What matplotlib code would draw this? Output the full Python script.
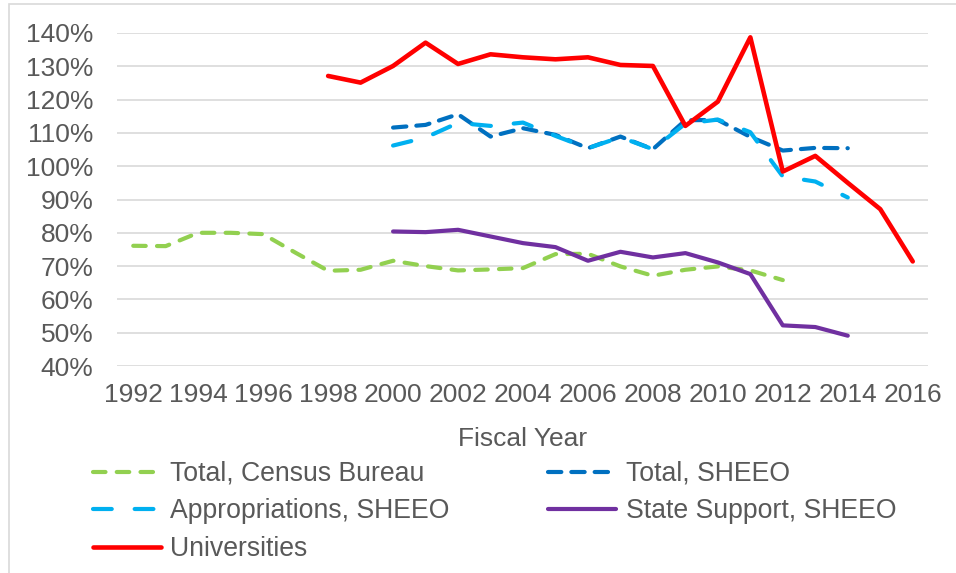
import matplotlib
matplotlib.use('Agg')
import matplotlib.pyplot as plt
import matplotlib.patches as patches
from matplotlib.ticker import FuncFormatter

# data (percent)
census_years = list(range(1992, 2013))
census = [76.1, 76.0, 80.0, 80.0, 79.6, 74.0, 68.6, 68.9, 71.6, 70.0, 68.7,
          69.0, 69.4, 73.6, 73.7, 69.9, 67.1, 68.9, 69.9, 68.7, 65.8]

sheeo_years = list(range(2000, 2015))
total_sheeo = [111.6, 112.4, 115.6, 108.9, 111.4, 109.4, 105.4, 108.9, 105.1,
               113.8, 113.9, 108.8, 104.7, 105.5, 105.4]
approp_sheeo = [106.2, 108.6, 113.0, 112.1, 113.1, 109.1, 105.4, 108.7, 105.1,
                112.8, 114.0, 110.2, 96.9, 95.4, 90.6]
state_support = [80.4, 80.2, 80.9, 78.9, 76.9, 75.7, 71.6, 74.3, 72.6, 73.9,
                 71.1, 67.6, 52.2, 51.7, 49.1]

univ_years = list(range(1998, 2017))
universities = [127.1, 125.1, 130.1, 137.1, 130.7, 133.6, 132.7, 132.1, 132.7,
                130.4, 130.1, 112.1, 119.4, 138.7, 98.4, 103.1, 95.0, 87.1, 71.4]

year_ticks = list(range(1992, 2017, 2))
pct_ticks = list(range(40, 141, 10))

plt.rcParams['font.family'] = ['Liberation Sans', 'DejaVu Sans']
grey_text = '#595959'

fig = plt.figure(figsize=(9.56, 5.73), dpi=100)
ax = fig.add_axes([117 / 956, 1 - 366 / 573, (928 - 117) / 956, (366 - 33) / 573])

lw = 3.0
l_census, = ax.plot(census_years, census, color='#92D050', lw=lw,
                    dashes=(3.0, 2.7), dash_capstyle='round',
                    label='Total, Census Bureau')
l_total, = ax.plot(sheeo_years, total_sheeo, color='#0070C0', lw=lw,
                   dashes=(3.2, 2.4), dash_capstyle='round',
                   label='Total, SHEEO')
l_approp, = ax.plot(sheeo_years, approp_sheeo, color='#00B0F0', lw=lw,
                    dashes=(4.5, 5.5), dash_capstyle='round',
                    label='Appropriations, SHEEO')
l_state, = ax.plot(sheeo_years, state_support, color='#7030A0', lw=lw,
                   solid_capstyle='round', solid_joinstyle='round',
                   label='State Support, SHEEO')
l_univ, = ax.plot(univ_years, universities, color='#FF0000', lw=3.3,
                  solid_capstyle='round', solid_joinstyle='round',
                  label='Universities')

ax.set_xlim(1991.5, 2016.47)
ax.set_ylim(40, 140)
ax.set_xticks(year_ticks)
ax.set_yticks(pct_ticks)
ax.yaxis.set_major_formatter(FuncFormatter(lambda v, p: f'{v:.0f}%'))
ax.tick_params(axis='both', length=0, labelsize=19, colors=grey_text)
ax.tick_params(axis='y', pad=17)
ax.tick_params(axis='x', pad=12)
ax.grid(axis='y', color='#D9D9D9', lw=1.2)
ax.set_axisbelow(True)
for s in ax.spines.values():
    s.set_visible(False)

ax.set_xlabel('Fiscal Year', fontsize=19, color=grey_text, labelpad=15)

# legend: column-major order gives Excel's row-wise layout
handles = [l_census, l_approp, l_univ, l_total, l_state]
leg = fig.legend(handles=handles, labels=[h.get_label() for h in handles],
                 loc='upper left', bbox_to_anchor=(93 / 956, 1 - 461 / 573),
                 ncol=2, frameon=False, fontsize=19.2, handlelength=2.55,
                 handletextpad=0.35, columnspacing=3.7, labelspacing=0.43,
                 borderpad=0, borderaxespad=0)
for t in leg.get_texts():
    t.set_color(grey_text)

# chart border (cropped outer frame)
border = patches.Rectangle((9 / 956, -0.2), 1.2, 1.2 - 4 / 573,
                           transform=fig.transFigure, fill=False,
                           edgecolor='#D9D9D9', lw=1.2)
fig.patches.append(border)

fig.savefig('out.png', dpi=100)
